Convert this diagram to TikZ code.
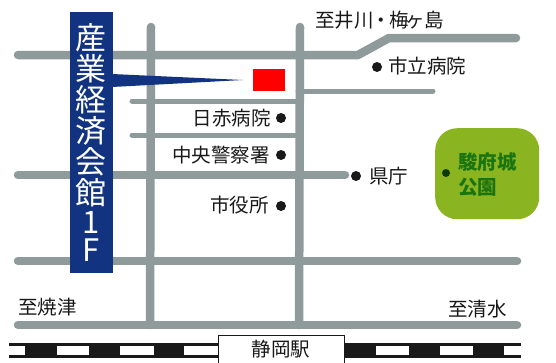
\documentclass[tikz,border=0pt]{standalone}
\usepackage{fontspec}
\setmainfont{Noto Sans CJK JP}
\definecolor{roadgray}{HTML}{8F9A9B}
\definecolor{navy}{HTML}{12337F}
\definecolor{parkgreen}{HTML}{8AB420}
\definecolor{parktext}{HTML}{1A7510}
\tikzset{
  mainroad/.style={draw=roadgray,line width=8.5pt,line cap=round,line join=round},
  sideroad/.style={draw=roadgray,line width=5pt,line cap=round},
  label/.style={inner sep=0pt,font=\fontsize{19.5}{22}\selectfont,text=black!90},
  spot/.style={circle,fill=black!90,minimum size=10pt,inner sep=0pt},
  railblack/.style={fill=black!90},
}
\begin{document}
\begin{tikzpicture}[x=1pt,y=-1pt]
\useasboundingbox (0,0) rectangle (556,362);
\fill[white] (0,0) rectangle (556,362);
% roads
\coordinate (h1a) at (18,55); \coordinate (h1b) at (358,55); \coordinate (h1c) at (389,38); \coordinate (h1d) at (516,38);
\draw[mainroad] (h1a) -- (h1b) -- (h1c) -- (h1d);
\coordinate (h2a) at (298,91); \coordinate (h2b) at (433,91);
\draw[sideroad] (h2a) -- (h2b);
\coordinate (h3a) at (132,101); \coordinate (h3b) at (298,101);
\draw[sideroad] (h3a) -- (h3b);
\coordinate (h4a) at (132,135); \coordinate (h4b) at (298,135);
\draw[sideroad] (h4a) -- (h4b);
\coordinate (h5a) at (18,175); \coordinate (h5b) at (345,175);
\draw[mainroad] (h5a) -- (h5b);
\coordinate (h6a) at (18,261); \coordinate (h6b) at (517,261);
\draw[mainroad] (h6a) -- (h6b);
\coordinate (h7a) at (18,325); \coordinate (h7b) at (517,325);
\draw[mainroad] (h7a) -- (h7b);
\coordinate (v1a) at (151,27); \coordinate (v1b) at (150,325);
\draw[mainroad] (v1a) -- (v1b);
\coordinate (v2a) at (300,27); \coordinate (v2b) at (299,325);
\draw[mainroad] (v2a) -- (v2b);
% railway
\fill[railblack] (9,343) rectangle (521,358);
\foreach \x/\w in {9/16,57/32,120/34,184/34,376/33,440/33,504/17}
  \fill[white] (\x,346) rectangle ++(\w,9);
\node[draw=black!90,fill=white,line width=0.8pt,minimum width=126pt,minimum height=30pt,inner sep=0pt,anchor=north west] (station) at (218,335) {};
\node[label] (stationlabel) at (281,349) {静岡駅};
% label tag
\fill[navy] (69.5,12) rectangle (113,273);
\fill[navy] (112,74) -- (243,80) -- (112,87) -- cycle;
\node[inner sep=0pt,text=white,align=center,font=\fontsize{31}{31}\selectfont] (tag) at (91,142) {産\\[0pt]業\\[0pt]経\\[0pt]済\\[0pt]会\\[0pt]館\\[-2pt]1\\[-3pt]F};
% target
\fill[red] (253,69) rectangle (285,91);
% park
\node[fill=parkgreen,rounded corners=22pt,minimum width=104pt,minimum height=91pt,inner sep=0pt,anchor=north west] (park) at (435,128) {};
\node[spot,minimum size=8pt,fill=parktext!50!black] (parkspot) at (446,173) {};
\node[inner sep=0pt,align=left,anchor=west,text=parktext,font=\bfseries\fontsize{19.5}{25}\selectfont] (parklabel) at (458,175) {駿府城\\公園};
% labels and spots
\node[label,anchor=west] (north) at (315,20) {至井川\kern-2pt・\kern-2pt梅\kern-3.5ptヶ\kern-0pt 島};
\node[spot] (s1) at (377,67) {};
\node[label,anchor=west] (l1) at (388,66) {市立病院};
\node[spot] (s2) at (281,118) {};
\node[label,anchor=east] (l2) at (271,118) {日赤病院};
\node[spot] (s3) at (281,155) {};
\node[label,anchor=east] (l3) at (270,155) {中央警察署};
\node[spot] (s4) at (356,176) {};
\node[label,anchor=west] (l4) at (369,176) {県庁};
\node[spot] (s5) at (281,206) {};
\node[label,anchor=east] (l5) at (269,205) {市役所};
\node[label,anchor=west] (west) at (18,307) {至焼津};
\node[label,anchor=west] (east) at (448,309) {至清水};
\end{tikzpicture}
\end{document}
